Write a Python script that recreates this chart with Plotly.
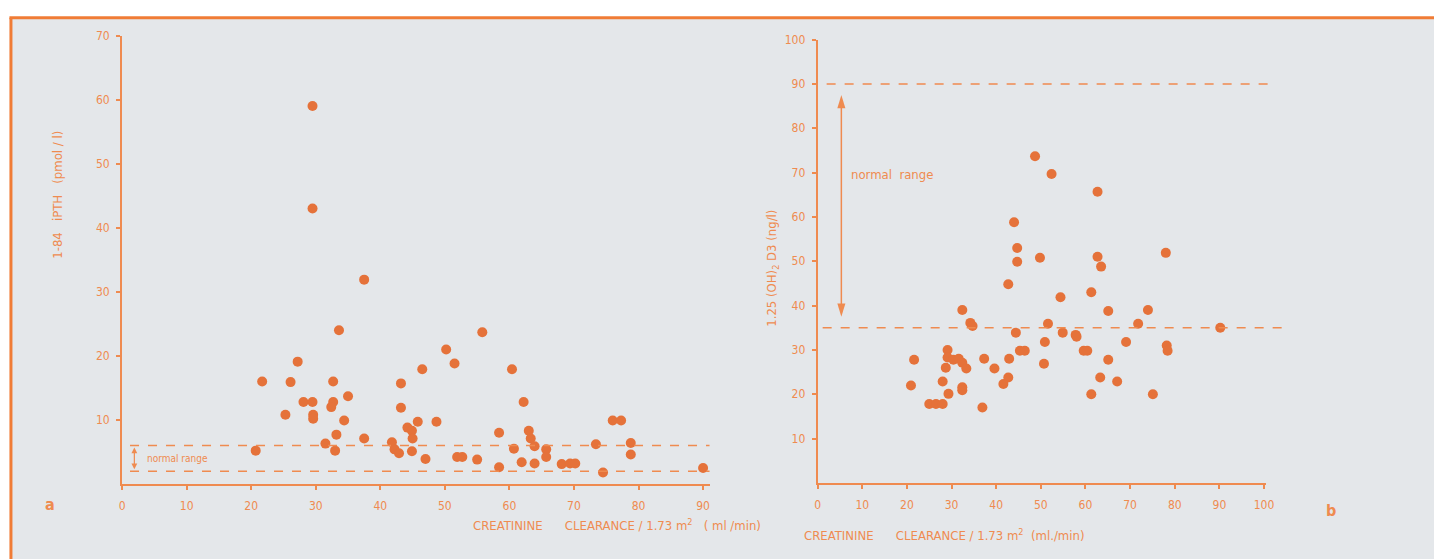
import plotly.graph_objects as go

# ---------------- data ----------------
# panel a: creatinine clearance (ml/min) vs 1-84 iPTH (pmol/l)
clear_a = [29.5, 29.5, 37.5, 33.6, 55.8, 50.2, 51.5, 27.2, 21.7, 26.1, 32.7, 43.2, 46.5, 60.4,
           35.0, 28.1, 29.5, 32.7, 32.4, 25.3, 29.6, 29.6, 43.2, 34.4, 45.8, 48.7, 62.2, 44.2,
           44.9, 45.0, 33.2, 37.5, 31.5, 41.8, 33.0, 42.2, 42.9, 44.9, 20.7, 47.0, 58.4, 63.0,
           63.3, 63.9, 60.7, 65.7, 65.7, 73.4, 78.8, 78.8, 76.0, 77.3, 51.9, 52.7, 55.0, 58.4,
           61.9, 63.9, 68.1, 69.4, 70.2, 74.5, 90.0]
pth = [59.0, 43.0, 31.9, 24.0, 23.7, 21.0, 18.8, 19.1, 16.0, 15.9, 16.0, 15.7, 17.9, 17.9,
       13.7, 12.8, 12.8, 12.8, 12.0, 10.8, 10.8, 10.2, 11.9, 9.9, 9.7, 9.7, 12.8, 8.8,
       8.3, 7.1, 7.7, 7.1, 6.3, 6.5, 5.2, 5.4, 4.8, 5.1, 5.2, 3.9, 8.0, 8.3,
       7.1, 5.9, 5.5, 5.4, 4.2, 6.2, 6.4, 4.6, 9.9, 9.9, 4.2, 4.2, 3.8, 2.6,
       3.4, 3.2, 3.1, 3.2, 3.2, 1.8, 2.5]

# panel b: creatinine clearance (ml/min) vs 1,25(OH)2 D3 (ng/l)
clear_b = [48.7, 52.4, 62.7, 44.0, 44.7, 44.7, 49.8, 62.7, 63.5, 78.0, 42.7, 54.4, 61.3, 65.1,
           74.0, 51.6, 71.8, 44.4, 54.9, 57.8, 58.0, 90.2, 50.9, 69.1, 45.3, 46.4, 59.6, 60.4,
           78.2, 78.4, 42.9, 50.7, 65.1, 39.6, 42.7, 41.6, 63.3, 67.1, 61.3, 75.1, 32.4, 34.2,
           34.7, 21.6, 29.1, 29.1, 30.4, 31.6, 32.4, 33.3, 28.7, 37.3, 20.9, 28.0, 32.4, 32.4,
           29.3, 25.0, 26.5, 28.0, 36.9]
vitd = [73.7, 69.7, 65.7, 58.8, 53.0, 49.9, 50.8, 51.0, 48.8, 51.9, 44.8, 41.9, 43.0, 38.8,
        39.0, 35.9, 35.9, 33.9, 33.9, 33.4, 33.0, 35.0, 31.8, 31.8, 29.8, 29.8, 29.8, 29.8,
        31.0, 29.8, 28.0, 26.9, 27.8, 25.8, 23.8, 22.3, 23.8, 22.9, 20.0, 20.0, 39.0, 36.1,
        35.4, 27.8, 30.0, 28.3, 27.8, 28.0, 27.1, 25.8, 26.0, 28.0, 22.0, 22.9, 21.6, 20.9,
        20.1, 17.8, 17.8, 17.8, 17.0]

ticks_a_x = [0, 10, 20, 30, 40, 50, 60, 70, 80, 90]
ticks_a_y = [10, 20, 30, 40, 50, 60, 70]
ticks_b_x = [0, 10, 20, 30, 40, 50, 60, 70, 80, 90, 100]
ticks_b_y = [10, 20, 30, 40, 50, 60, 70, 80, 90, 100]

pth_normal = [2, 6]
vitd_normal = [35, 90]

# ---------------- style ----------------
W, H = 1434, 559
ORANGE = "#EF8B50"
DOT = "#E5723A"
FRAME = "#F07C36"
BG = "#E4E7EA"
FONT = "Liberation Sans Narrow, Arial Narrow, DejaVu Sans Condensed, Liberation Sans, sans-serif"


def px(x):
    return x / W


def py(y):
    return 1 - y / H


def arrow_shapes(xref, yref, xc, lo, hi, half_w, head_h, width):
    """double headed vertical arrow between lo and hi (data units)"""
    line = dict(color=ORANGE, width=width)
    return [
        dict(type="line", xref=xref, yref=yref, x0=xc, x1=xc, y0=lo + head_h * 0.5,
             y1=hi - head_h * 0.5, line=line),
        dict(type="path", xref=xref, yref=yref, fillcolor=ORANGE, line=dict(width=0),
             path=f"M {xc} {lo} L {xc - half_w} {lo + head_h} L {xc + half_w} {lo + head_h} Z"),
        dict(type="path", xref=xref, yref=yref, fillcolor=ORANGE, line=dict(width=0),
             path=f"M {xc} {hi} L {xc - half_w} {hi - head_h} L {xc + half_w} {hi - head_h} Z"),
    ]


fig = go.Figure()
fig.add_trace(go.Scatter(x=clear_a, y=pth, mode="markers", xaxis="x", yaxis="y",
                         marker=dict(size=10, color=DOT, line=dict(width=0)),
                         showlegend=False, hoverinfo="x+y"))
fig.add_trace(go.Scatter(x=clear_b, y=vitd, mode="markers", xaxis="x2", yaxis="y2",
                         marker=dict(size=10, color=DOT, line=dict(width=0)),
                         showlegend=False, hoverinfo="x+y"))

axis_common = dict(showgrid=False, zeroline=False, showline=True, linecolor=ORANGE,
                   linewidth=2, ticks="outside", tickcolor=ORANGE, ticklen=4, tickwidth=1.5,
                   tickfont=dict(color=ORANGE, size=12, family=FONT))

shapes = [
    # grey page with orange frame
    dict(type="rect", xref="paper", yref="paper", x0=px(8), x1=1.05, y0=-0.05, y1=py(11),
         fillcolor=BG, line=dict(width=0, color=BG), layer="below"),
    dict(type="line", xref="paper", yref="paper", x0=px(6.5), x1=1.05, y0=py(11), y1=py(11),
         line=dict(color=FRAME, width=3)),
    dict(type="line", xref="paper", yref="paper", x0=px(8), x1=px(8), y0=-0.05, y1=py(11),
         line=dict(color=FRAME, width=3)),
]
# normal range dashed lines, panel a
for v in pth_normal:
    shapes.append(dict(type="line", xref="paper", yref="y", x0=px(128), x1=px(712), y0=v, y1=v,
                       line=dict(color=ORANGE, width=1.5, dash="dash")))
# normal range dashed lines, panel b
shapes.append(dict(type="line", xref="paper", yref="y2", x0=px(830), x1=px(1282),
                   y0=vitd_normal[1], y1=vitd_normal[1],
                   line=dict(color=ORANGE, width=1.5, dash="dash")))
shapes.append(dict(type="line", xref="paper", yref="y2", x0=px(826), x1=px(1290),
                   y0=vitd_normal[0], y1=vitd_normal[0],
                   line=dict(color=ORANGE, width=1.5, dash="dash")))
# normal range arrows
shapes += arrow_shapes("x", "y", 1.9, pth_normal[0] + 0.3, pth_normal[1] - 0.3, 0.45, 0.9, 1.2)
shapes += arrow_shapes("x2", "y2", 5.3, vitd_normal[0] + 2.5, vitd_normal[1] - 2.5, 0.9, 3.0, 1.5)

tfont = dict(color=ORANGE, size=13, family=FONT)
NB = "\u00a0"
annotations = [
    dict(x=3.6, y=3.9, xref="x", yref="y", text="normal" + NB + "range", showarrow=False,
         xanchor="left", font=dict(color=ORANGE, size=10, family=FONT)),
    dict(x=7.0, y=69.5, xref="x2", yref="y2", text="normal" + NB * 2 + "range", showarrow=False,
         xanchor="left", font=dict(color=ORANGE, size=13, family=FONT)),
    # axis titles
    dict(x=px(45), y=py(190), xref="paper", yref="paper", textangle=-90, showarrow=False,
         text="1-84" + NB * 3 + "iPTH" + NB * 3 + "(pmol / l)", font=tfont),
    dict(x=px(776), y=py(265), xref="paper", yref="paper", textangle=-90, showarrow=False,
         text="1.25 (OH)<sub>2</sub> D3 (ng/l)", font=tfont),
    dict(x=px(472), y=py(535), xref="paper", yref="paper", showarrow=False,
         text="CREATININE" + NB * 6 + "CLEARANCE / 1.73 m<sup>2</sup>" + NB * 3 + "( ml /min)",
         font=tfont),
    dict(x=px(1092), y=py(545), xref="paper", yref="paper", showarrow=False,
         text="CREATININE" + NB * 6 + "CLEARANCE / 1.73 m<sup>2</sup>" + NB * 2 + "(ml./min)",
         font=tfont),
    # panel letters
    dict(x=px(40), y=py(515), xref="paper", yref="paper", showarrow=False, text="<b>a</b>",
         font=dict(color=ORANGE, size=16, family=FONT)),
    dict(x=px(1345), y=py(522), xref="paper", yref="paper", showarrow=False, text="<b>b</b>",
         font=dict(color=ORANGE, size=16, family=FONT)),
]

fig.update_layout(
    width=W, height=H, margin=dict(l=0, r=0, t=0, b=0),
    paper_bgcolor="white", plot_bgcolor="rgba(0,0,0,0)",
    xaxis=dict(domain=[px(120), px(712)], range=[0, 91], anchor="y",
               tickvals=ticks_a_x, ticklabelstandoff=6, **axis_common),
    yaxis=dict(domain=[py(483), py(29)], range=[0, 70], anchor="x",
               tickvals=ticks_a_y, ticklabelstandoff=4, **axis_common),
    xaxis2=dict(domain=[px(821), px(1273)], range=[0, 100.5], anchor="y2",
                tickvals=ticks_b_x, ticklabelstandoff=6, **axis_common),
    yaxis2=dict(domain=[py(482), py(33)], range=[0, 100], anchor="x2",
                tickvals=ticks_b_y, ticklabelstandoff=4, **axis_common),
    shapes=shapes, annotations=annotations,
)

fig.write_html(
    "out.html",
    config={"displayModeBar": False},
    post_script="document.body.style.margin='0';document.body.style.padding='0';"
                "document.body.style.overflow='hidden';",
)
